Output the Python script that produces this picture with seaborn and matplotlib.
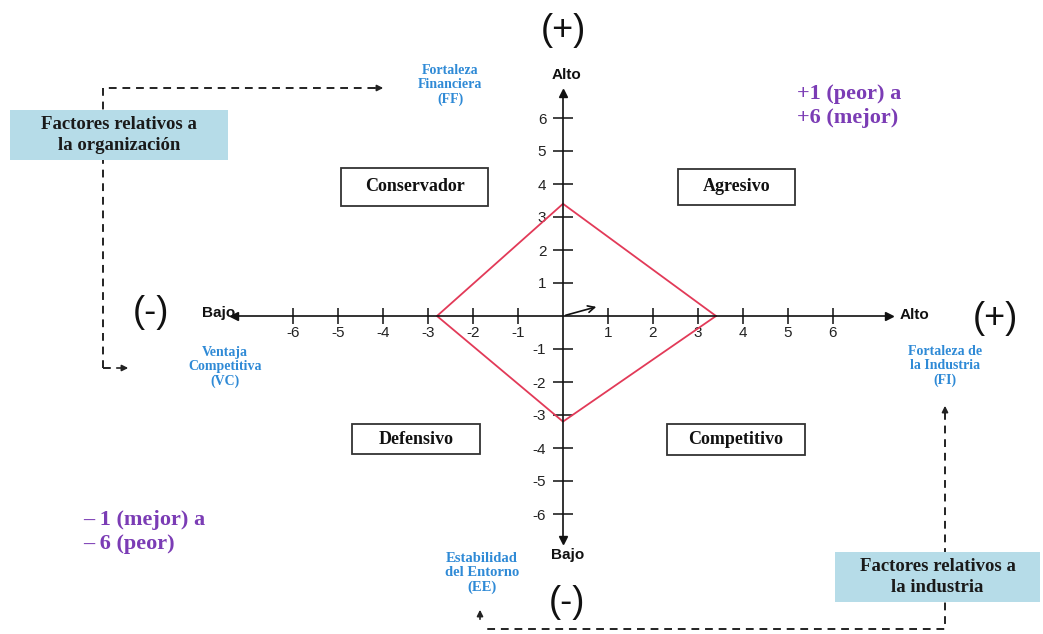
import matplotlib
matplotlib.use("Agg")
import matplotlib.pyplot as plt
import seaborn as sns
from matplotlib.patches import Rectangle

# --- Data (PEEA matrix) ---
axis_ticks = [-6, -5, -4, -3, -2, -1, 1, 2, 3, 4, 5, 6]
diamond_labels = ["FI", "FF", "VC", "EE", "FI"]
diamond_x = [3.4, 0, -2.8, 0, 3.4]
diamond_y = [0, 3.4, 0, -3.2, 0]
vector_x = [0, 0.8]
vector_y = [0, 0.3]
quadrant_names = ["Conservador", "Agresivo", "Defensivo", "Competitivo"]
axis_names = ["Fortaleza\nFinanciera\n(FF)", "Ventaja\nCompetitiva\n(VC)",
              "Fortaleza de\nla Industria\n(FI)", "Estabilidad\ndel Entorno\n(EE)"]
scale_notes = ["+1 (peor) a\n+6 (mejor)", "– 1 (mejor) a\n– 6 (peor)"]
factor_notes = ["Factores relativos a\nla organización", "Factores relativos a\nla industria"]

# --- Style ---
sns.set_theme(style="ticks")
plt.rcParams["font.family"] = ["Liberation Sans", "DejaVu Sans"]

RED = "#e23a58"
BLUE = "#2f8ad6"
PURPLE = "#7b3cb5"
LIGHT = "#b6dce8"
SERIF = ["Liberation Serif", "DejaVu Serif"]

W, H = 1043, 634
fig = plt.figure(figsize=(W / 100, H / 100), dpi=100)
ax = fig.add_axes([0, 0, 1, 1])

# data units -> 45 px horizontally, 33 px vertically, origin at (563, 316)
ax.set_xlim(-563 / 45, (W - 563) / 45)
ax.set_ylim(-(H - 316) / 33, 316 / 33)


def fx(px):
    return px / W


def fy(py):
    return 1 - py / H


# --- Axes through the origin ---
for side in ["top", "right"]:
    ax.spines[side].set_visible(False)
ax.spines["left"].set_position(("data", 0))
ax.spines["bottom"].set_position(("data", 0))
ax.spines["left"].set_bounds(-6.8, 6.75)
ax.spines["bottom"].set_bounds(-7.3, 7.25)
for side in ["left", "bottom"]:
    ax.spines[side].set_color("#111111")
    ax.spines[side].set_linewidth(1.2)

ax.set_xticks(axis_ticks)
ax.set_yticks(axis_ticks)
ax.set_xticklabels([str(t) for t in axis_ticks])
ax.set_yticklabels([str(t) for t in axis_ticks])
ax.tick_params(axis="x", direction="inout", length=11, width=1.2, pad=2,
               labelsize=11, colors="#222222")
ax.tick_params(axis="y", direction="inout", length=14, width=1.2, pad=5,
               labelsize=11, colors="#222222")

ax.plot(7.25, 0, marker=">", ms=6, color="#111111", clip_on=False)
ax.plot(-7.3, 0, marker="<", ms=6, color="#111111", clip_on=False)
ax.plot(0, 6.75, marker="^", ms=6, color="#111111", clip_on=False)
ax.plot(0, -6.8, marker="v", ms=6, color="#111111", clip_on=False)

# --- Diamond and direction vector ---
sns.lineplot(x=diamond_x, y=diamond_y, sort=False, estimator=None,
             color=RED, linewidth=1.3, ax=ax)
ax.annotate("", xy=(vector_x[1], vector_y[1]), xytext=(vector_x[0], vector_y[0]),
            arrowprops=dict(arrowstyle="->", color="#111111", lw=1.2))

# --- Axis end labels ---
bold_sans = dict(fontsize=11, fontweight="bold", color="#111111")
fig.text(fx(566), fy(75), "Alto", ha="center", va="center", **bold_sans)
fig.text(fx(900), fy(315), "Alto", ha="left", va="center", **bold_sans)
fig.text(fx(235), fy(313), "Bajo", ha="right", va="center", **bold_sans)
fig.text(fx(568), fy(555), "Bajo", ha="center", va="center", **bold_sans)

sign = dict(fontsize=26, color="#111111", ha="center", va="center")
fig.text(fx(563), fy(30), "(+)", **sign)
fig.text(fx(995), fy(318), "(+)", **sign)
fig.text(fx(151), fy(312), "(-)", **sign)
fig.text(fx(567), fy(603), "(-)", **sign)

# --- Dashed connectors (drawn under the boxes) ---
dash = dict(color="#222222", lw=1.4, linestyle=(0, (4, 3)),
            transform=fig.transFigure, zorder=1)
fig.lines.append(plt.Line2D([fx(103), fx(103), fx(375)], [fy(368), fy(88), fy(88)], **dash))
fig.lines.append(plt.Line2D([fx(103), fx(112)], [fy(368), fy(368)], **dash))
fig.lines.append(plt.Line2D([fx(945), fx(945), fx(483)], [fy(412), fy(629), fy(629)], **dash))

head = dict(arrowstyle="-|>", color="#222222", lw=1.2, mutation_scale=9)
ax.annotate("", xy=(fx(386), fy(88)), xytext=(fx(372), fy(88)),
            xycoords="figure fraction", arrowprops=head)
ax.annotate("", xy=(fx(131), fy(368)), xytext=(fx(114), fy(368)),
            xycoords="figure fraction", arrowprops=head)
ax.annotate("", xy=(fx(945), fy(403)), xytext=(fx(945), fy(416)),
            xycoords="figure fraction", arrowprops=head)
ax.annotate("", xy=(fx(480), fy(607)), xytext=(fx(480), fy(622)),
            xycoords="figure fraction", arrowprops=head)

# --- Quadrant boxes ---
quad_boxes = [(341, 168, 147, 38), (678, 169, 117, 36), (352, 424, 128, 30), (667, 424, 138, 31)]
for name, (x0, y0, bw, bh) in zip(quadrant_names, quad_boxes):
    fig.patches.append(Rectangle((fx(x0), fy(y0 + bh)), bw / W, bh / H,
                                 transform=fig.transFigure, fc="white",
                                 ec="#333333", lw=1.3, zorder=3))
    fig.text(fx(x0 + bw / 2), fy(y0 + bh / 2), name, ha="center", va="center",
             family=SERIF, fontweight="bold", fontsize=13, color="#111111", zorder=4)

# --- Axis descriptions ---
name_pos = [(450, 85, 10), (225, 367, 10), (945, 366, 10), (482, 573, 10.5)]
for text, (px, py, fs) in zip(axis_names, name_pos):
    fig.text(fx(px), fy(py), text, ha="center", va="center", family=SERIF,
             fontweight="bold", fontsize=fs, color=BLUE, linespacing=1.15)

# --- Scale notes ---
fig.text(fx(797), fy(106), scale_notes[0], ha="left", va="center", family=SERIF,
         fontweight="bold", fontsize=16, color=PURPLE, linespacing=1.3)
fig.text(fx(83), fy(532), scale_notes[1], ha="left", va="center", family=SERIF,
         fontweight="bold", fontsize=16, color=PURPLE, linespacing=1.3)

# --- Factor boxes ---
factor_boxes = [(10, 110, 218, 50), (835, 552, 205, 50)]
for text, (x0, y0, bw, bh) in zip(factor_notes, factor_boxes):
    fig.patches.append(Rectangle((fx(x0), fy(y0 + bh)), bw / W, bh / H,
                                 transform=fig.transFigure, fc=LIGHT, ec="none",
                                 zorder=3))
    fig.text(fx(x0 + bw / 2), fy(y0 + bh / 2), text, ha="center", va="center",
             family=SERIF, fontweight="bold", fontsize=13.5, color="#1a1a1a",
             linespacing=1.25, zorder=4)

fig.savefig("out.png", dpi=100)
